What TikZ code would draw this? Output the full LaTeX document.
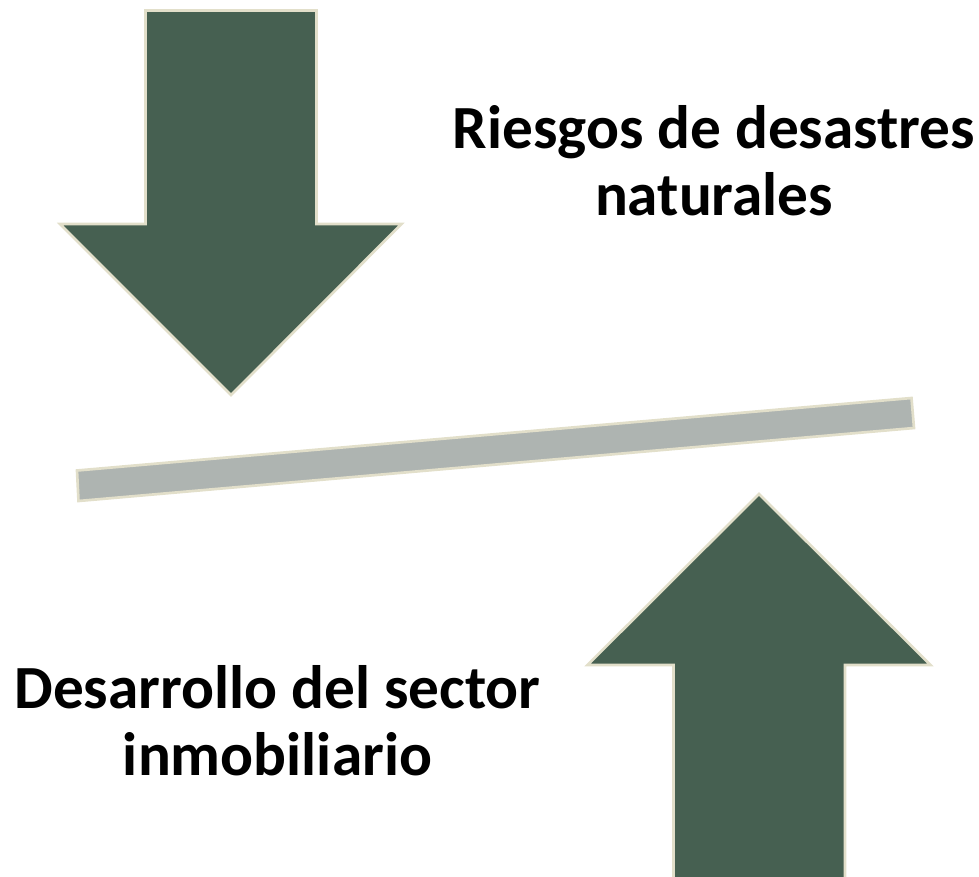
\documentclass[tikz,border=0pt]{standalone}
\usepackage{fontspec}
\setmainfont{Carlito}
\definecolor{arrowgreen}{HTML}{466051}
\definecolor{edgecream}{HTML}{E2DFCA}
\definecolor{bargray}{HTML}{AEB4B1}
\tikzset{
  bigarrow/.style={fill=arrowgreen,draw=edgecream,line width=2pt,miter limit=10},
  beam/.style={fill=bargray,draw=edgecream,line width=2pt},
  caption/.style={font=\bfseries\fontsize{46}{50.25}\selectfont,align=center,text=black,inner sep=0pt,anchor=base}
}
\begin{document}
\begin{tikzpicture}[x=0.75pt,y=-0.75pt]
\useasboundingbox (0,0) rectangle (979,876);
\draw[bigarrow] (145.5,10.5) -- (316.5,10.5) -- (316.5,224) -- (401.5,224) -- (231,395) -- (60,224) -- (145.5,224) -- cycle;
\draw[beam] (77,470.5) -- (911.5,398) -- (914,428) -- (78.5,501) -- cycle;
\draw[bigarrow] (759,494) -- (930.5,665) -- (845,665) -- (845,890) -- (673.5,890) -- (673.5,665) -- (587.5,665) -- cycle;
\node[caption] (risks) at (714,215.7) {Riesgos de desastres\\naturales};
\node[caption] (growth) at (277.5,775.7) {Desarrollo del sector\\inmobiliario};
\end{tikzpicture}
\end{document}
